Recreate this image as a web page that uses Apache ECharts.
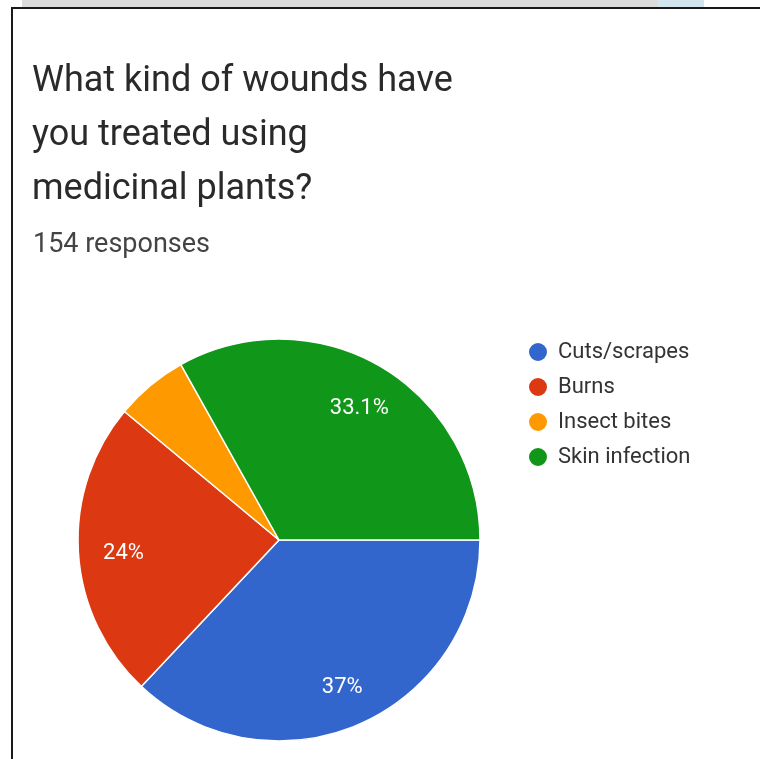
<!DOCTYPE html>
<html>
<head>
<meta charset="utf-8">
<title>What kind of wounds have you treated using medicinal plants?</title>
<script src="https://cdn.jsdelivr.net/npm/echarts@6/dist/echarts.min.js"></script>
<style>
  html, body { margin: 0; padding: 0; background: #ffffff; }
  #chart { width: 760px; height: 759px; }
</style>
</head>
<body>
<div id="chart"></div>
<script>
// Survey answers
const categories = ['Cuts/scrapes', 'Burns', 'Insect bites', 'Skin infection'];
const responses = [57, 37, 9, 51];
const sliceColors = ['#3366cc', '#dc3912', '#ff9900', '#109618'];
const questionLines = ['What kind of wounds have', 'you treated using', 'medicinal plants?'];
const responseCount = '154 responses';

const FONT = 'Roboto, "Noto Sans", sans-serif';

const pieData = categories.map((name, i) => ({
  name,
  value: responses[i],
  itemStyle: { color: sliceColors[i] }
}));

// Percent text like "37%" / "33.1%"; tiny slices get no label
function percentLabel(p) {
  if (p.percent < 8) return '';
  return Number(p.percent.toFixed(1)) + '%';
}

const center = [279, 540];
const R = 201;

const chart = echarts.init(document.getElementById('chart'), null, { renderer: 'canvas' });
chart.setOption({
  backgroundColor: '#ffffff',
  animation: false,
  graphic: [
    // top strip of the page behind the card
    { type: 'rect', shape: { x: 22, y: 0, width: 636, height: 7 }, style: { fill: '#dcdcdc' } },
    { type: 'rect', shape: { x: 658, y: 0, width: 46, height: 7 }, style: { fill: '#d3e6ef' } },
    // card frame
    { type: 'rect', shape: { x: 11, y: 7, width: 749, height: 2 }, style: { fill: '#1a1a1a' } },
    { type: 'rect', shape: { x: 11, y: 7, width: 2, height: 752 }, style: { fill: '#1a1a1a' } }
  ],
  title: [
    {
      text: questionLines.join('\n'),
      left: 27,
      top: 50,
      textStyle: {
        fontFamily: FONT,
        fontSize: 36,
        fontWeight: 'normal',
        color: '#2a2a2a',
        lineHeight: 54
      }
    },
    {
      text: responseCount,
      left: 28,
      top: 227,
      textStyle: {
        fontFamily: FONT,
        fontSize: 27,
        fontWeight: 'normal',
        color: '#444444'
      }
    }
  ],
  legend: {
    orient: 'vertical',
    left: 527,
    top: 341,
    padding: 0,
    icon: 'circle',
    itemWidth: 20,
    itemHeight: 20,
    itemGap: 13,
    data: categories,
    textStyle: {
      fontFamily: FONT,
      fontSize: 22,
      color: '#333333',
      lineHeight: 20,
      padding: [0, 0, 0, 5]
    }
  },
  series: [
    {
      type: 'pie',
      center: center,
      radius: [0, R],
      startAngle: 0,
      clockwise: true,
      silent: true,
      label: { show: false },
      labelLine: { show: false },
      itemStyle: { borderColor: '#ffffff', borderWidth: 1.5 },
      data: pieData
    },
    {
      // transparent ring that only carries the percentage labels
      type: 'pie',
      center: center,
      radius: [R * 0.53, R],
      startAngle: 0,
      clockwise: true,
      silent: true,
      legendHoverLink: false,
      itemStyle: { color: 'rgba(0,0,0,0)', borderWidth: 0 },
      label: {
        show: true,
        position: 'inside',
        formatter: percentLabel,
        fontFamily: FONT,
        fontSize: 22,
        color: '#ffffff',
        offset: [1, 4]
      },
      labelLine: { show: false },
      data: categories.map((name, i) => ({ name, value: responses[i], itemStyle: { color: 'rgba(0,0,0,0)' } }))
    }
  ]
});
</script>
</body>
</html>
